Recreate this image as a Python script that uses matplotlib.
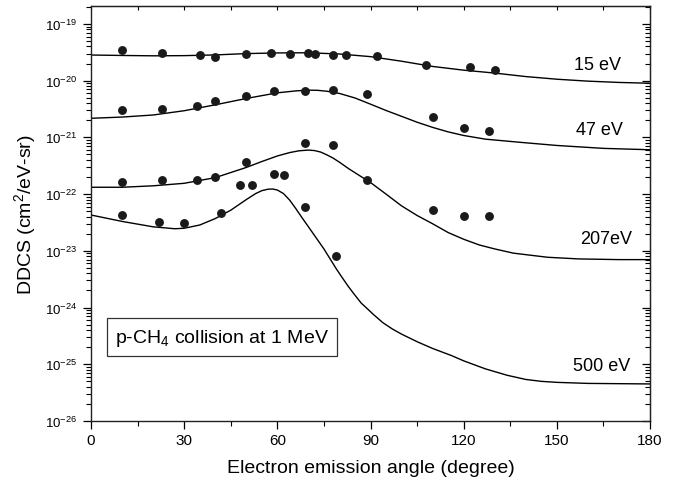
import numpy as np
import matplotlib
matplotlib.use('Agg')
import matplotlib.pyplot as plt
from matplotlib.ticker import MultipleLocator, FixedLocator, NullFormatter, FuncFormatter

plt.rcParams['font.family'] = ['Liberation Sans', 'DejaVu Sans']
plt.rcParams['mathtext.fontset'] = 'custom'
plt.rcParams['mathtext.rm'] = 'Liberation Sans'
plt.rcParams['mathtext.it'] = 'Liberation Sans:italic'
plt.rcParams['mathtext.bf'] = 'Liberation Sans:bold'
plt.rcParams['mathtext.default'] = 'regular'

# Measured points (angle in degree, DDCS in cm^2/eV-sr)
ang15 = [10, 23, 35, 40, 50, 58, 64, 70, 72, 78, 82, 92, 108, 122, 130]
ddcs15 = [3.48e-20, 3.13e-20, 2.85e-20, 2.65e-20, 3.0e-20, 3.05e-20, 3.0e-20, 3.08e-20,
          3.0e-20, 2.85e-20, 2.81e-20, 2.73e-20, 1.87e-20, 1.71e-20, 1.55e-20]

ang47 = [10, 23, 34, 40, 50, 59, 69, 78, 89, 110, 120, 128]
ddcs47 = [3.0e-21, 3.15e-21, 3.6e-21, 4.4e-21, 5.4e-21, 6.45e-21, 6.6e-21, 6.9e-21,
          5.78e-21, 2.3e-21, 1.45e-21, 1.3e-21]

ang207 = [10, 23, 34, 40, 48, 50, 52, 59, 62, 69, 78, 89, 110, 120, 128]
ddcs207 = [1.65e-22, 1.77e-22, 1.79e-22, 1.98e-22, 1.46e-22, 3.7e-22, 1.46e-22, 2.26e-22,
           2.2e-22, 7.9e-22, 7.4e-22, 1.75e-22, 5.25e-23, 4.17e-23, 4.11e-23]

ang500 = [10, 22, 30, 42, 69, 79]
ddcs500 = [4.28e-23, 3.18e-23, 3.06e-23, 4.59e-23, 6.0e-23, 8.2e-24]

# Theory curves
th15 = [0, 10, 20, 30, 40, 50, 60, 70, 80, 90, 100, 110, 120, 130, 140, 150, 160, 170, 180]
cs15 = [2.83e-20, 2.78e-20, 2.74e-20, 2.76e-20, 2.84e-20, 3.0e-20, 3.08e-20, 3.1e-20, 2.95e-20,
        2.65e-20, 2.2e-20, 1.78e-20, 1.53e-20, 1.36e-20, 1.18e-20, 1.06e-20, 9.8e-21, 9.3e-21, 9.0e-21]

th47 = [0, 10, 20, 30, 40, 50, 60, 66, 70, 73, 76, 80, 85, 90, 95, 100, 105, 110, 115, 120, 127,
        138, 150, 165, 180]
cs47 = [2.17e-21, 2.28e-21, 2.48e-21, 2.95e-21, 3.75e-21, 4.85e-21, 6.1e-21, 6.6e-21, 6.8e-21,
        6.75e-21, 6.5e-21, 5.95e-21, 4.95e-21, 3.85e-21, 2.98e-21, 2.35e-21, 1.85e-21, 1.5e-21,
        1.25e-21, 1.08e-21, 9.3e-22, 8.2e-22, 7.2e-22, 6.4e-22, 6.05e-22]

th207 = [0, 10, 20, 30, 40, 50, 55, 60, 64, 67, 70, 72, 74, 76, 78, 80, 83, 86, 90, 95, 100,
         105, 110, 115, 120, 125, 130, 136, 147, 157, 170, 180]
cs207 = [1.32e-22, 1.32e-22, 1.4e-22, 1.55e-22, 1.95e-22, 2.95e-22, 3.75e-22, 4.7e-22, 5.4e-22,
         5.8e-22, 5.97e-22, 5.85e-22, 5.5e-22, 4.9e-22, 4.3e-22, 3.65e-22, 2.8e-22, 2.2e-22,
         1.6e-22, 1.0e-22, 6.2e-23, 4.2e-23, 3.0e-23, 2.1e-23, 1.6e-23, 1.27e-23, 1.08e-23,
         9.1e-24, 7.7e-24, 7.2e-24, 7.0e-24, 7.0e-24]

th500 = [0, 10, 20, 27, 30, 35, 40, 45, 50, 53, 55, 57, 58.5, 60, 62, 64, 66, 68, 70.5, 73, 75,
         77, 79, 81, 83, 85, 87, 89, 91, 94, 97, 100, 105, 110, 116, 120, 127, 134, 140, 145, 150,
         160, 180]
cs500 = [4.28e-23, 3.3e-23, 2.65e-23, 2.45e-23, 2.5e-23, 2.85e-23, 3.7e-23, 5.2e-23, 8.0e-23,
         1.02e-22, 1.15e-22, 1.22e-22, 1.23e-22, 1.18e-22, 1.02e-22, 7.8e-23, 5.5e-23, 3.8e-23,
         2.43e-23, 1.55e-23, 1.08e-23, 7.2e-24, 4.8e-24, 3.3e-24, 2.3e-24, 1.65e-24, 1.2e-24,
         9.5e-25, 7.5e-25, 5.4e-25, 4.2e-25, 3.4e-25, 2.5e-25, 1.9e-25, 1.43e-25, 1.15e-25,
         8.3e-26, 6.4e-26, 5.4e-26, 5.0e-26, 4.8e-26, 4.6e-26, 4.5e-26]

labels = ['15 eV', '47 eV', '207eV', '500 eV']
label_x = [163, 163.6, 166, 164.4]
label_y = [1.95e-20, 1.4e-21, 1.62e-23, 9.5e-26]

decades = [1e-26, 1e-25, 1e-24, 1e-23, 1e-22, 1e-21, 1e-20, 1e-19]
minors = [m * d for d in [1e-26, 1e-25, 1e-24, 1e-23, 1e-22, 1e-21, 1e-20] for m in range(2, 10)]
minors += [2e-19]

fig = plt.figure(figsize=(6.89, 4.85), dpi=100)
ax = fig.add_axes([91 / 689, 1 - 422 / 485, 559 / 689, 415 / 485])

for th, cs in [(th15, cs15), (th47, cs47), (th207, cs207), (th500, cs500)]:
    ax.plot(th, cs, color='black', lw=1.0)
for a, d in [(ang15, ddcs15), (ang47, ddcs47), (ang207, ddcs207), (ang500, ddcs500)]:
    ax.plot(a, d, 'o', color='#1a1a1a', ms=6.4, mec='none')

for lab, lx, ly in zip(labels, label_x, label_y):
    ax.text(lx, ly, lab, fontsize=13, ha='center', va='center')

ax.text(0.234, 0.2024, r'p-CH$_4$ collision at 1 MeV', transform=ax.transAxes,
        fontsize=14, ha='center', va='center',
        bbox=dict(boxstyle='square,pad=0.42', facecolor='white', edgecolor='#333333', lw=0.9))

ax.set_yscale('log')
ax.set_xlim(0, 180)
ax.set_ylim(1e-26, 2.07e-19)
ax.xaxis.set_major_locator(MultipleLocator(30))
ax.xaxis.set_minor_locator(MultipleLocator(15))
ax.yaxis.set_major_locator(FixedLocator(decades))
ax.yaxis.set_minor_locator(FixedLocator(minors))
ax.yaxis.set_minor_formatter(NullFormatter())
ax.yaxis.set_major_formatter(FuncFormatter(lambda v, p: r'$10^{%d}$' % int(round(np.log10(v)))))

ax.tick_params(which='major', direction='out', length=6, width=0.9, labelsize=11, pad=3)
ax.tick_params(axis='y', which='major', labelsize=9.5, pad=4)
ax.tick_params(which='minor', direction='out', length=3.5, width=0.8)
ax.tick_params(top=False, right=False)
for s in ax.spines.values():
    s.set_linewidth(1.0)
    s.set_color('#222222')

# top and right ticks point inwards
top = ax.secondary_xaxis('top')
top.xaxis.set_major_locator(FixedLocator(list(range(0, 181, 15))))
top.tick_params(direction='in', length=3, width=0.8, labeltop=False)
right = ax.secondary_yaxis('right')
right.yaxis.set_major_locator(FixedLocator(decades))
right.yaxis.set_minor_locator(FixedLocator(minors))
right.yaxis.set_minor_formatter(NullFormatter())
right.tick_params(which='major', direction='in', length=6, width=0.9, labelright=False)
right.tick_params(which='minor', direction='in', length=3.5, width=0.8)

ax.set_xlabel('Electron emission angle (degree)', fontsize=14, labelpad=8)
ax.set_ylabel(r'DDCS (cm$^2$/eV-sr)', fontsize=14, labelpad=5)

fig.savefig('out.png', dpi=100)
